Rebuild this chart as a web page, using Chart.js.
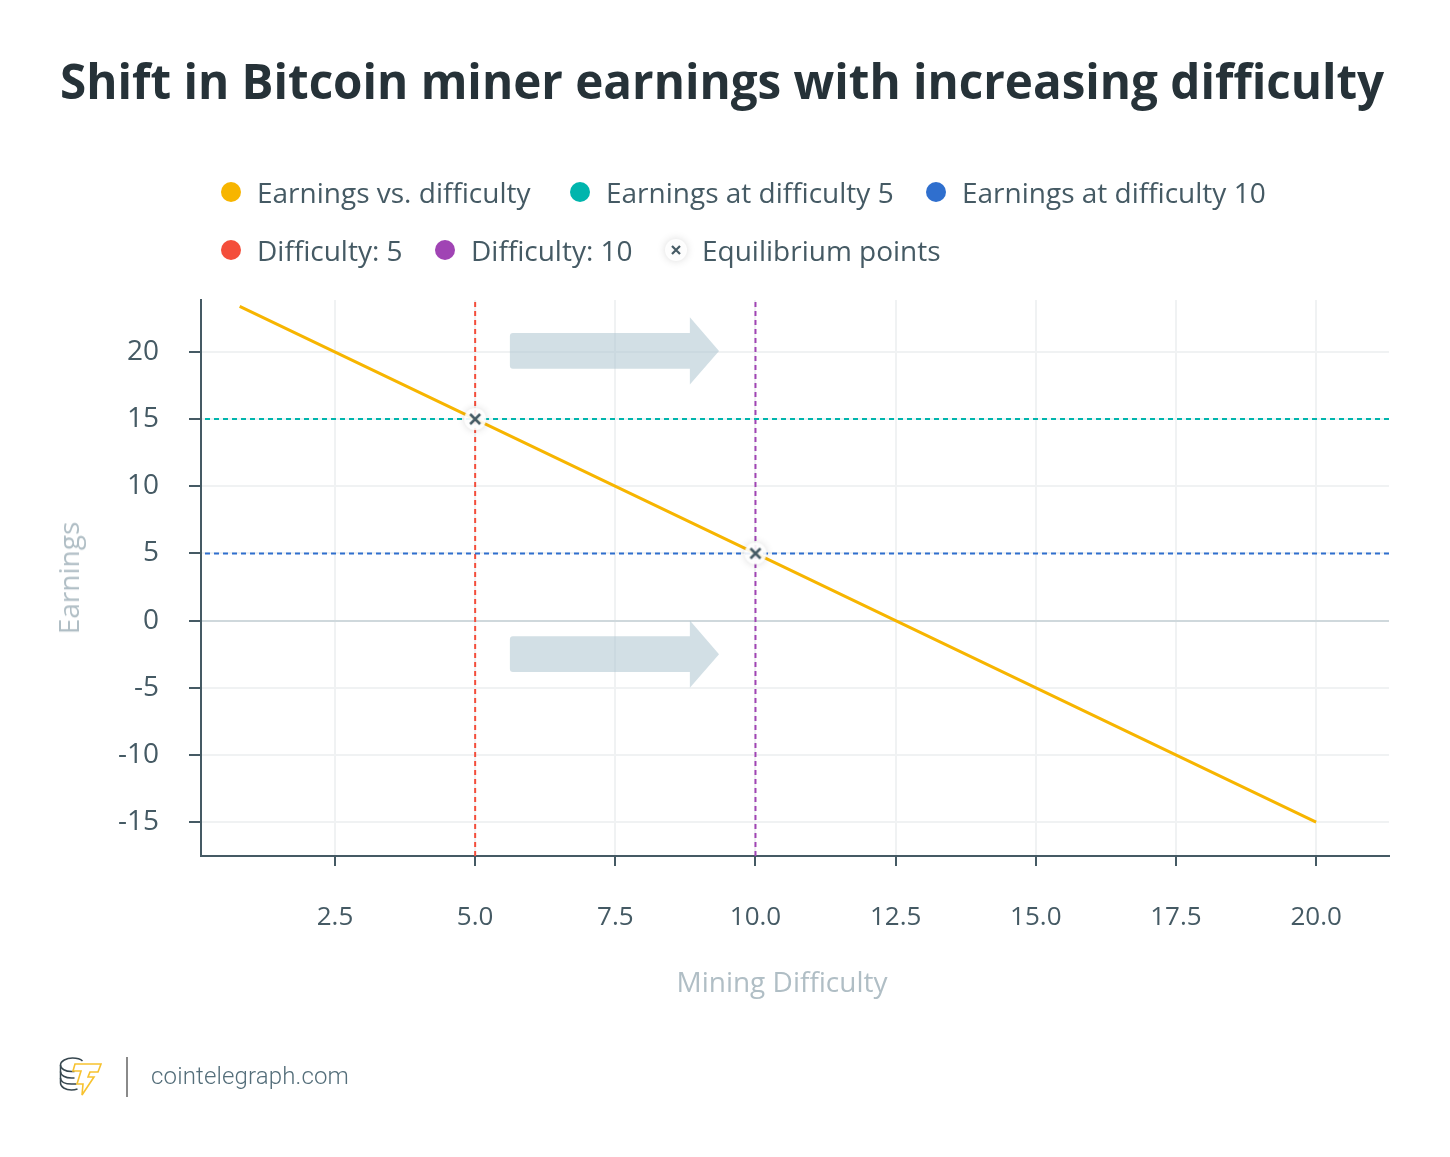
<!DOCTYPE html>
<html>
<head>
<meta charset="utf-8">
<title>Shift in Bitcoin miner earnings with increasing difficulty</title>
<script src="https://cdn.jsdelivr.net/npm/chart.js@4/dist/chart.umd.min.js"></script>
<style>
  html, body { margin: 0; padding: 0; background: #fff; }
  #wrap { position: relative; width: 1450px; height: 1157px; overflow: hidden; font-family: "Open Sans", sans-serif; }
  #chartCanvas { position: absolute; left: 0; top: 0; }
  .abs { position: absolute; white-space: nowrap; }
  #title { left: 60px; top: 48px; font-size: 47.57px; line-height: 66px; font-weight: 700; color: #263238; }
  .legendText { font-size: 28px; line-height: 36px; color: #455a64; transform: translateY(-50%); }
  .legendDot { width: 20px; height: 20px; border-radius: 50%; transform: translate(-50%, -50%); }
  .axisTitle { font-size: 28px; line-height: 36px; color: #b0bec5; transform: translate(-50%, -50%); }
  #logoText { left: 151px; top: 1060px; font-family: Roboto, sans-serif; font-weight: 300; font-size: 24px; line-height: 32px; color: #546e7a; letter-spacing: 0.15px; }
  #divider { left: 126px; top: 1057px; width: 2px; height: 40px; background: #8a8a8a; }
</style>
</head>
<body>
<div id="wrap">
  <canvas id="chartCanvas" width="1450" height="1157"></canvas>
  <div id="title" class="abs">Shift in Bitcoin miner earnings with increasing difficulty</div>
  <div id="legend"></div>
  <div class="abs axisTitle" style="left:68px;top:578px;transform:translate(-50%,-50%) rotate(-90deg)">Earnings</div>
  <div class="abs axisTitle" style="left:782px;top:981px">Mining Difficulty</div>
  <svg class="abs" style="left:58px;top:1054px" width="46" height="44" viewBox="0 0 46 44" fill="none">
    <g stroke="#37474f" stroke-width="1.5">
      <path d="M2.500 11c0-4 6-7 12-7 4 0 8 1 10 3"/>
      <path d="M2.500 11v18c0 4 5 7 11 7 2 0 4-.3 6-1"/>
      <path d="M2.500 11c0 4 5 6.500 11 6.500h3"/>
      <path d="M2.500 17.500c0 4 5 6.500 11 6.500h3"/>
      <path d="M2.500 24c0 4 5 6 11 6h5"/>
    </g>
    <path d="M17 10h26l-3 8h-8l-2 5h6L24 41l1-11h-6l4-13h-8z" fill="#fff" stroke="#f7c22f" stroke-width="1.600" stroke-linejoin="miter"/>
  </svg>
  <div id="divider" class="abs"></div>
  <div id="logoText" class="abs">cointelegraph.com</div>
</div>

<script>
// --- Data ---
const lineX = [0.8, 5, 10, 12.5, 20];
const lineY = [23.4, 15, 5, 0, -15];
const equilibriumX = [5, 10];
const equilibriumY = [15, 5];
const xTickValues = [2.5, 5, 7.5, 10, 12.5, 15, 17.5, 20];
const yTickValues = [-15, -10, -5, 0, 5, 10, 15, 20];
const xRange = [0.11, 21.3];
const yRange = [-17.53, 23.87];
const difficultyLevels = [5, 10];
const earningsLevels = [15, 5];
const arrowCentersY = [20.08, -2.5];
const arrowTailX = 5.62;
const arrowHeadX = 8.83;
const arrowTipX = 9.35;
const arrowShaftHalf = 1.33;
const arrowHeadHalf = 2.5;

const colors = {
  line: '#f7b500', teal: '#00b5ad', blue: '#2f6fce', red: '#f44e3b', purple: '#a044b4',
  axis: '#455a64', grid: '#f0f2f3', zero: '#cfd8dc', arrow: 'rgba(173,197,208,0.55)'
};

// Legend, laid out by hand to sit where the reference has it
const legendItems = [
  { label: 'Earnings vs. difficulty', color: colors.line, x: 231, y: 192 },
  { label: 'Earnings at difficulty 5', color: colors.teal, x: 580, y: 192 },
  { label: 'Earnings at difficulty 10', color: colors.blue, x: 936, y: 192 },
  { label: 'Difficulty: 5', color: colors.red, x: 231, y: 250 },
  { label: 'Difficulty: 10', color: colors.purple, x: 445, y: 250 },
  { label: 'Equilibrium points', color: null, x: 676, y: 250 }
];

// Marker for the equilibrium points: white disc with soft shadow and a small x
function makeMarker(arm, weight) {
  const size = 40, c = size / 2;
  const cv = document.createElement('canvas');
  cv.width = cv.height = size;
  const g = cv.getContext('2d');
  g.save();
  g.shadowColor = 'rgba(0,0,0,0.16)';
  g.shadowBlur = 8;
  g.fillStyle = 'rgba(255,255,255,0.9)';
  g.beginPath();
  g.arc(c, c, 11, 0, Math.PI * 2);
  g.fill();
  g.restore();
  g.strokeStyle = colors.axis;
  g.lineWidth = weight;
  g.beginPath();
  g.moveTo(c - arm, c - arm); g.lineTo(c + arm, c + arm);
  g.moveTo(c + arm, c - arm); g.lineTo(c - arm, c + arm);
  g.stroke();
  return cv;
}
const marker = makeMarker(5, 2.6);
const legendMarker = makeMarker(4, 2.2);

const legendEl = document.getElementById('legend');
legendItems.forEach(item => {
  if (item.color) {
    const dot = document.createElement('div');
    dot.className = 'abs legendDot';
    dot.style.cssText = `left:${item.x}px;top:${item.y}px;background:${item.color}`;
    legendEl.appendChild(dot);
  } else {
    legendMarker.className = 'abs';
    legendMarker.style.cssText = `left:${item.x - 20}px;top:${item.y - 20}px`;
    legendEl.appendChild(legendMarker);
  }
  const text = document.createElement('div');
  text.className = 'abs legendText';
  text.style.cssText = `left:${item.x + 26}px;top:${item.y}px`;
  text.textContent = item.label;
  legendEl.appendChild(text);
});

// Block arrows are placed in data units and go through the scales
const arrowPlugin = {
  id: 'arrows',
  beforeDatasetsDraw(chart) {
    const { ctx, scales: { x, y } } = chart;
    const tail = x.getPixelForValue(arrowTailX);
    const head = x.getPixelForValue(arrowHeadX);
    const tip = x.getPixelForValue(arrowTipX);
    ctx.save();
    ctx.fillStyle = colors.arrow;
    arrowCentersY.forEach(cy => {
      const shaftTop = y.getPixelForValue(cy + arrowShaftHalf);
      const shaftBottom = y.getPixelForValue(cy - arrowShaftHalf);
      ctx.beginPath();
      ctx.moveTo(tail + 3, shaftTop);
      ctx.lineTo(head, shaftTop);
      ctx.lineTo(head, y.getPixelForValue(cy + arrowHeadHalf));
      ctx.lineTo(tip, y.getPixelForValue(cy));
      ctx.lineTo(head, y.getPixelForValue(cy - arrowHeadHalf));
      ctx.lineTo(head, shaftBottom);
      ctx.lineTo(tail + 3, shaftBottom);
      ctx.arcTo(tail, shaftBottom, tail, shaftBottom - 3, 3);
      ctx.lineTo(tail, shaftTop + 3);
      ctx.arcTo(tail, shaftTop, tail + 3, shaftTop, 3);
      ctx.closePath();
      ctx.fill();
    });
    ctx.restore();
  }
};

function toPoints(xs, ys) {
  return xs.map((v, i) => ({ x: v, y: ys[i] }));
}

function dashed(label, data, color) {
  return { label, data, borderColor: color, borderWidth: 2, borderDash: [5, 4], pointRadius: 0, showLine: true, order: 3 };
}

// horizontal dashes run right to left so a dash lands on the right edge
const xRangeReversed = [xRange[1], xRange[0]];

new Chart(document.getElementById('chartCanvas').getContext('2d'), {
  type: 'scatter',
  data: {
    datasets: [
      { label: 'Equilibrium points', data: toPoints(equilibriumX, equilibriumY), pointStyle: marker, pointRadius: 20, showLine: false, order: 0 },
      { label: 'Earnings vs. difficulty', data: toPoints(lineX, lineY), borderColor: colors.line, borderWidth: 3, pointRadius: 0, showLine: true, order: 1 },
      dashed('Earnings at difficulty 5', toPoints(xRangeReversed, [earningsLevels[0], earningsLevels[0]]), colors.teal),
      dashed('Earnings at difficulty 10', toPoints(xRangeReversed, [earningsLevels[1], earningsLevels[1]]), colors.blue),
      dashed('Difficulty: 5', toPoints([difficultyLevels[0], difficultyLevels[0]], yRange), colors.red),
      dashed('Difficulty: 10', toPoints([difficultyLevels[1], difficultyLevels[1]], yRange), colors.purple)
    ]
  },
  options: {
    responsive: false,
    animation: false,
    devicePixelRatio: 1,
    layout: { padding: { left: 101, right: 61, top: 300, bottom: 201 } },
    plugins: { legend: { display: false }, tooltip: { enabled: false } },
    scales: {
      x: {
        type: 'linear',
        min: xRange[0],
        max: xRange[1],
        afterBuildTicks: scale => { scale.ticks = xTickValues.map(value => ({ value })); },
        afterFit: scale => { scale.height = 100; },
        border: { color: colors.axis, width: 2 },
        grid: { color: colors.grid, lineWidth: 2, tickColor: colors.axis, tickLength: 10, tickWidth: 2 },
        ticks: {
          color: colors.axis, padding: 36, maxRotation: 0, autoSkip: false,
          font: { family: '"Open Sans"', size: 26 },
          callback: v => v.toFixed(1)
        }
      },
      y: {
        type: 'linear',
        min: yRange[0],
        max: yRange[1],
        afterBuildTicks: scale => { scale.ticks = yTickValues.map(value => ({ value })); },
        afterFit: scale => { scale.width = 100; },
        border: { color: colors.axis, width: 2 },
        grid: {
          color: ctx => (ctx.tick && ctx.tick.value === 0 ? colors.zero : colors.grid),
          lineWidth: 2, tickColor: colors.axis, tickLength: 12, tickWidth: 2
        },
        ticks: {
          color: colors.axis, padding: 30, autoSkip: false,
          font: { family: '"Open Sans"', size: 28 },
          callback: v => String(v)
        }
      }
    }
  },
  plugins: [arrowPlugin]
});
</script>
</body>
</html>
